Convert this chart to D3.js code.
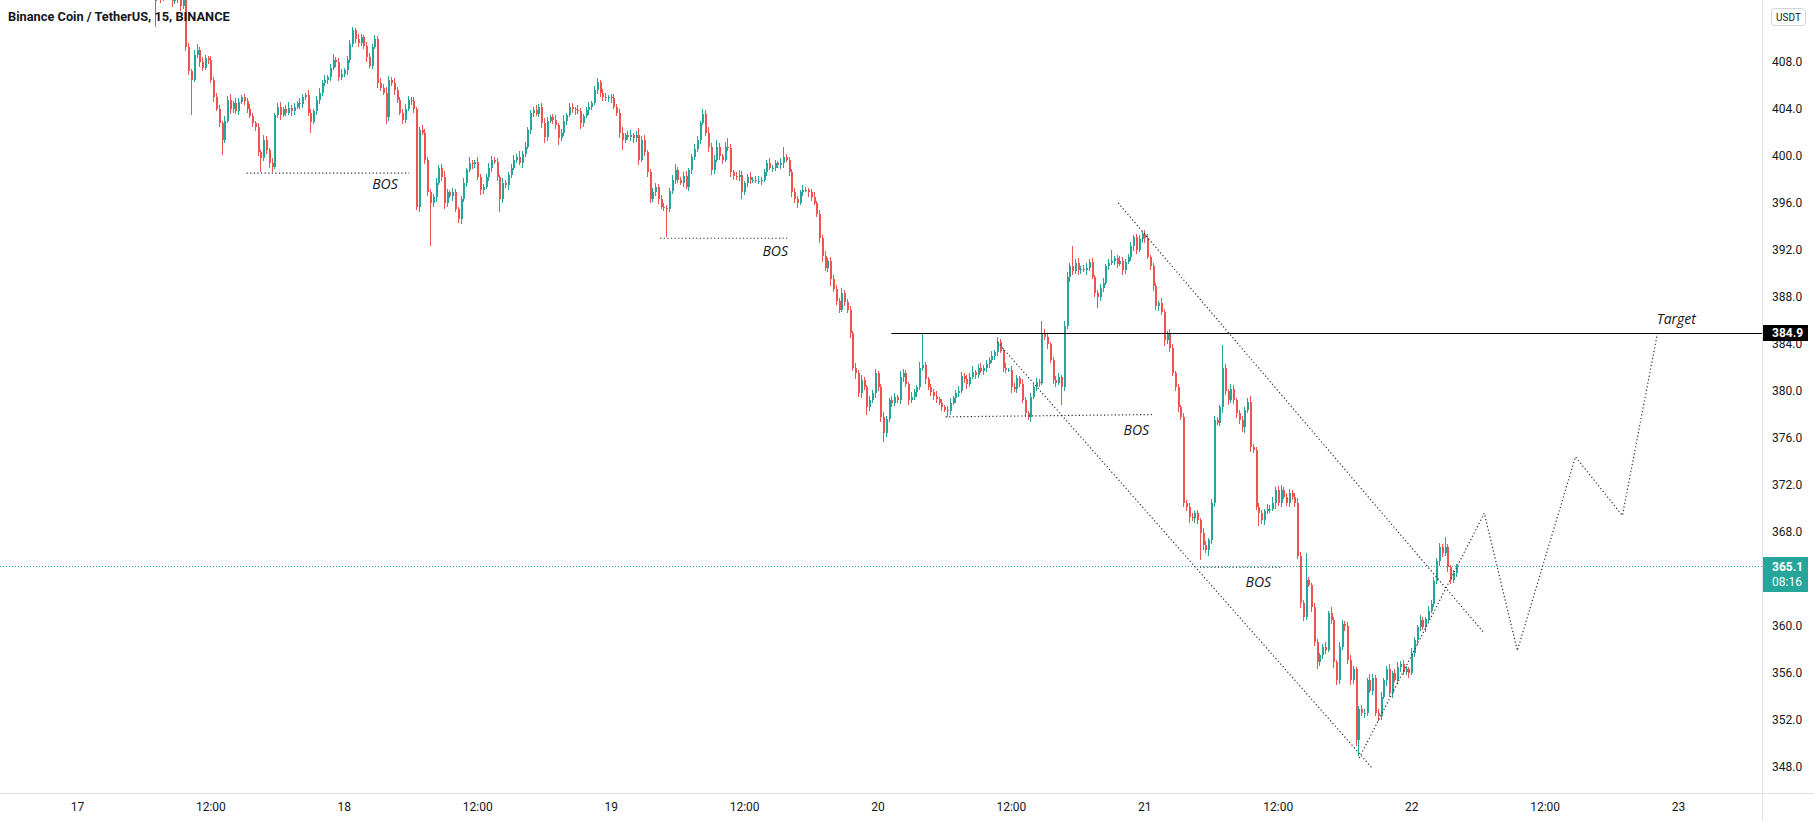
<!DOCTYPE html>
<html>
<head>
<meta charset="utf-8">
<script src="https://cdn.jsdelivr.net/npm/d3@7"></script>
<style>
  body { margin: 0; background: #fff; }
  svg { display: block; }
  text { font-family: Roboto, "Liberation Sans", sans-serif; fill: #131722; }
</style>
</head>
<body>
<script>
// BNB/USDT 15m candles, slot = number of 15-minute steps after 17th 00:00
var firstSlot = 28;
var firstOpen = 413.2;
var closes = [
  413.8,414.2,413.5,413.9,414.5,413.7,413.2,413.8,413.4,412.8,
  413.3,409.3,407.2,406.5,408.6,409.0,408.0,407.5,408.3,408.2,
  406.5,405.0,404.0,402.8,401.4,403.0,404.8,404.0,404.5,403.8,
  404.6,405.0,404.7,404.0,403.4,402.8,402.5,400.3,399.8,401.4,
  400.5,399.4,399.1,403.5,404.2,403.5,404.0,403.7,404.1,403.8,
  404.2,404.5,404.4,405.0,405.2,403.7,402.9,403.8,404.8,405.4,
  406.2,406.5,406.7,407.5,408.2,408.0,406.7,407.0,407.3,408.2,
  409.5,410.7,410.0,409.6,410.1,409.4,408.4,407.7,409.3,410.0,
  406.2,405.8,405.4,403.3,406.5,406.2,405.6,404.8,403.7,403.1,
  404.0,404.8,404.7,404.0,395.7,402.2,402.0,399.7,396.9,396.0,
  396.5,397.7,399.0,398.2,396.0,396.9,396.6,396.9,395.5,394.6,
  396.3,397.7,398.8,399.4,399.3,399.5,398.2,397.1,397.4,398.2,
  399.0,399.7,399.5,398.2,396.3,397.7,397.5,398.4,399.0,399.7,
  399.9,399.4,400.2,400.8,402.2,403.7,403.9,403.6,404.2,402.8,
  401.6,403.0,403.3,403.1,402.6,401.5,402.0,403.0,403.5,404.2,
  404.0,403.9,403.8,402.8,403.4,403.9,404.2,404.5,405.6,406.3,
  405.4,405.0,404.9,405.0,404.9,404.2,403.7,402.0,401.4,401.8,
  401.6,401.8,401.5,401.8,399.7,401.4,400.3,398.6,396.3,396.9,
  397.4,396.3,395.7,395.6,395.5,397.0,398.0,398.8,398.0,397.7,
  398.3,397.4,398.8,399.9,400.6,401.4,402.8,403.6,402.0,400.8,
  398.8,399.7,400.8,400.0,399.7,400.8,400.7,398.6,398.3,398.2,
  398.4,396.9,397.7,398.2,398.0,398.0,397.9,397.9,398.0,398.6,
  399.4,399.0,399.0,399.4,399.2,399.4,399.9,399.7,398.6,396.9,
  396.3,396.0,396.9,397.1,397.1,396.9,396.5,396.0,395.1,393.0,
  391.5,390.5,391.1,389.5,388.7,387.7,386.9,388.3,387.6,386.9,
  384.9,382.0,381.5,379.8,380.9,380.3,378.6,379.2,379.8,381.5,
  380.3,377.8,376.4,377.6,379.2,379.0,379.5,379.2,381.2,381.5,
  380.6,379.2,379.5,379.9,380.3,382.0,382.2,381.0,380.3,379.9,
  379.6,379.3,379.0,378.6,378.4,378.3,379.0,379.4,379.8,380.0,
  381.3,381.0,380.6,381.2,381.6,381.4,382.0,381.7,382.0,382.3,
  382.6,383.0,383.3,384.2,383.4,382.0,381.8,381.8,380.3,380.2,
  381.1,380.6,379.2,378.1,377.8,379.5,380.3,380.8,380.7,384.9,
  384.6,384.0,382.6,380.9,380.7,381.2,380.3,385.5,389.7,390.6,
  390.2,390.9,390.3,390.4,390.3,390.5,391.0,389.7,388.3,388.0,
  388.8,389.2,390.6,390.9,391.1,391.3,390.8,391.1,390.3,391.0,
  391.4,392.3,393.1,392.0,392.9,393.4,393.0,391.4,390.6,388.9,
  387.2,387.5,386.7,384.3,384.9,383.7,381.5,380.3,378.6,377.8,
  370.5,370.1,369.3,369.2,369.6,369.0,367.9,366.9,366.5,367.3,
  370.5,377.5,377.3,378.6,382.0,380.0,379.2,380.2,379.2,378.1,
  377.5,376.9,378.4,379.1,375.2,375.0,370.1,369.6,369.0,369.8,
  370.0,370.0,370.5,371.6,370.5,371.6,371.0,370.5,371.3,371.0,
  370.5,366.0,362.0,360.8,363.9,363.5,361.6,358.6,356.9,357.5,
  358.2,358.0,361.1,360.5,356.9,355.4,358.2,360.2,360.0,357.1,
  355.4,356.3,350.3,352.9,352.6,352.6,355.4,354.5,355.6,352.6,
  352.3,354.0,355.4,356.3,354.3,356.0,355.4,356.5,356.8,356.1,
  356.3,356.0,357.7,358.8,359.9,360.5,359.9,360.6,361.3,361.9,
  363.8,365.5,366.7,366.2,366.7,365.0,363.9,364.5,365.1
];
// wick lengths above / below the body, in tenths of a dollar
var wickUp = [
  6,5,4,8,6,3,5,4,3,5, 4,2,3,2,4,5,3,4,3,2, 3,2,4,3,2,4,3,5,2,4, 3,2,3,2,4,3,2,3,2,4,
  3,2,4,2,3,4,2,3,5,2, 3,2,4,3,2,4,3,2,3,4, 3,4,2,3,5,2,3,4,2,3, 4,3,2,4,3,2,3,4,2,3,
  2,4,3,5,3,2,4,3,2,3, 4,3,2,3,2,3,4,3,2,3, 3,4,2,3,5,3,2,4,3,2, 3,4,2,5,3,2,4,3,2,3,
  4,3,2,3,2,4,3,2,3,4, 3,5,2,4,3,2,3,4,2,3, 4,3,2,3,4,2,3,5,2,3, 3,2,4,3,2,3,4,2,4,3,
  2,3,4,2,3,4,2,3,5,2, 3,4,2,3,6,3,4,2,3,4, 3,2,4,3,2,3,4,5,3,2, 3,4,2,3,4,3,2,4,3,5,
  3,4,6,3,2,4,7,3,2,3, 4,3,2,3,4,2,3,4,2,3, 3,4,2,3,2,4,9,3,2,3, 4,3,2,4,3,2,3,4,2,3,
  3,4,2,3,4,3,2,5,3,2, 3,2,4,3,5,3,2,4,3,4, 2,3,4,3,2,4,3,2,5,4, 3,2,4,3,2,5,27,3,2,3,
  3,4,2,3,2,3,4,2,3,4, 3,2,4,3,5,2,3,4,2,3, 3,4,2,4,2,3,4,2,3,4, 3,2,4,3,2,3,4,3,2,11,
  4,3,2,3,4,3,2,5,4,3, 17,3,4,2,3,4,2,3,2,3, 3,4,2,3,9,2,3,4,3,2, 3,4,2,3,4,2,3,4,2,3,
  3,2,4,3,2,4,3,2,3,2, 3,2,4,3,2,3,2,4,3,2, 3,4,3,2,19,3,2,4,3,2, 3,4,2,3,5,3,2,4,3,2,
  4,3,5,2,3,4,2,3,4,3, 3,4,3,2,23,3,2,4,3,2, 3,4,2,5,3,2,4,3,2,3, 4,3,2,3,4,3,2,5,3,2,
  3,4,2,3,5,2,3,4,2,3, 3,2,4,3,2,4,3,2,4,3, 4,3,4,3,9,3,2,3,2
];
var wickDown = [
  22,4,5,3,6,4,5,3,4,5, 3,4,3,30,2,3,4,3,2,4, 3,4,2,3,13,3,2,4,3,2, 3,2,4,3,2,3,4,3,12,2,
  3,4,5,2,3,4,2,3,2,4, 3,2,4,3,2,3,9,2,3,4, 3,2,4,3,2,4,3,2,3,4, 3,2,4,3,2,3,4,2,3,2,
  4,3,2,6,3,2,4,3,2,4, 3,2,4,3,3,5,2,4,3,37, 3,4,2,3,5,3,2,4,3,3, 4,2,3,2,4,3,2,4,3,2,
  3,4,2,3,11,3,2,4,3,2, 3,2,4,3,2,3,4,2,3,4, 5,3,2,4,3,6,2,3,4,2, 3,4,2,5,3,2,4,3,2,3,
  4,3,2,3,4,2,3,5,9,3, 2,3,4,3,5,2,3,4,3,2, 3,4,2,3,24,3,2,4,3,2, 3,2,4,3,2,3,4,2,3,5,
  4,3,2,3,4,2,3,4,3,2, 3,6,2,3,4,3,2,3,4,2, 3,2,4,3,2,3,4,2,3,4, 3,4,2,3,2,4,3,2,3,4,
  5,3,4,6,3,4,3,2,4,3, 4,3,5,3,4,2,6,3,2,4, 3,4,7,3,2,4,3,2,3,4, 3,4,2,3,4,2,3,4,2,3,
  4,3,2,3,2,5,3,2,4,3, 2,3,4,3,2,4,3,2,3,4, 3,2,4,3,2,4,3,2,5,3, 4,3,2,3,3,4,2,3,4,2,
  3,4,2,3,4,2,15,3,2,4, 3,2,4,3,2,4,3,2,3,9, 3,4,2,3,2,4,3,2,4,3, 2,3,4,3,2,3,4,2,3,4,
  3,4,2,5,3,4,2,3,4,3, 4,3,5,3,4,3,23,4,3,5, 3,4,2,3,5,3,4,2,3,4, 3,4,5,3,4,3,2,11,3,4,
  3,4,2,5,3,4,2,3,4,3, 4,3,5,4,3,2,4,3,6,3, 3,4,2,3,5,4,3,2,4,3, 4,3,5,14,3,4,3,2,4,3,
  4,3,2,5,3,4,2,3,4,3, 3,4,2,3,4,3,2,4,3,2, 3,2,4,3,2,4,3,2,3
];

var priceTicks = [348, 352, 356, 360, 364, 368, 372, 376, 380, 384, 388, 392, 396, 400, 404, 408];
var timeTicks = ["2022-03-17T00:00Z", "2022-03-17T12:00Z", "2022-03-18T00:00Z", "2022-03-18T12:00Z",
  "2022-03-19T00:00Z", "2022-03-19T12:00Z", "2022-03-20T00:00Z", "2022-03-20T12:00Z",
  "2022-03-21T00:00Z", "2022-03-21T12:00Z", "2022-03-22T00:00Z", "2022-03-22T12:00Z", "2022-03-23T00:00Z"];

var lastPrice = 365.1;
var lastTimer = "08:16";
var targetPrice = 384.9;
var targetStart = 293;

// drawings: [slot, price] points
var bosLines = [
  {from: [61, 398.55], to: [119.5, 398.55], label: [110.8, 397.6]},
  {from: [209.8, 393.0], to: [255.5, 393.0], label: [251.2, 391.9]},
  {from: [312.5, 377.8], to: [387.4, 378.0], label: [381.1, 376.7]},
  {from: [404, 365.0], to: [433.6, 365.0], label: [425, 363.7]}
];
var channelUpper = [[374.6, 396.0], [505.9, 359.5]];
var channelLower = [[331.1, 384.17], [466, 347.9]];
var projection = [[461.3, 348.77], [506.3, 369.6], [518.2, 357.9], [539.1, 374.4], [556, 369.4], [568.6, 384.9]];
var targetLabel = [575.4, 386.1];

var w = 1814, h = 821;
var plotRight = 1762, plotBottom = 793;
var upColor = "#26a69a", downColor = "#ef5350";

var t0 = Date.UTC(2022, 2, 17);
function slotTime(s) { return new Date(t0 + s * 15 * 60000); }

var svg = d3.select("body").append("svg")
  .attr("width", w)
  .attr("height", h);

var xScale = d3.scaleUtc()
  .domain([new Date(t0), new Date(Date.UTC(2022, 2, 23))])
  .range([77, 1678]);
var yScale = d3.scaleLinear()
  .domain([408, 348])
  .range([62, 767]);

function px(p) { return xScale(slotTime(p[0])); }
function py(p) { return yScale(p[1]); }

svg.append("clipPath").attr("id", "plot")
  .append("rect").attr("x", 0).attr("y", 0).attr("width", plotRight).attr("height", plotBottom);

var plot = svg.append("g").attr("clip-path", "url(#plot)");

// last price dotted line
plot.append("line")
  .attr("x1", 0).attr("x2", plotRight)
  .attr("y1", Math.round(yScale(lastPrice)) + 0.5).attr("y2", Math.round(yScale(lastPrice)) + 0.5)
  .attr("stroke", upColor).attr("stroke-dasharray", "1,2");

var candles = closes.map(function(c, i) {
  var o = i ? closes[i - 1] : firstOpen;
  return {
    t: slotTime(firstSlot + i), o: o, c: c,
    h: Math.max(o, c) + (wickUp[i] || 0) / 10,
    l: Math.min(o, c) - (wickDown[i] || 0) / 10
  };
});

var cg = plot.append("g").attr("shape-rendering", "crispEdges");
cg.selectAll("line.wick")
  .data(candles)
  .enter()
  .append("line")
  .attr("class", "wick")
  .attr("x1", function(d) { return Math.round(xScale(d.t)) + 0.5; })
  .attr("x2", function(d) { return Math.round(xScale(d.t)) + 0.5; })
  .attr("y1", function(d) { return yScale(d.h); })
  .attr("y2", function(d) { return yScale(d.l); })
  .attr("stroke", function(d) { return d.c >= d.o ? upColor : downColor; });

cg.selectAll("rect")
  .data(candles)
  .enter()
  .append("rect")
  .attr("x", function(d) { return Math.round(xScale(d.t)) - 0.5; })
  .attr("width", 2)
  .attr("y", function(d) { return yScale(Math.max(d.o, d.c)); })
  .attr("height", function(d) { return Math.max(1, Math.abs(yScale(d.o) - yScale(d.c))); })
  .attr("fill", function(d) { return d.c >= d.o ? upColor : downColor; });

// target level
plot.append("line")
  .attr("x1", xScale(slotTime(targetStart))).attr("x2", plotRight)
  .attr("y1", Math.round(yScale(targetPrice)) + 0.5).attr("y2", Math.round(yScale(targetPrice)) + 0.5)
  .attr("stroke", "#000").attr("stroke-width", 1);

var dotted = plot.append("g")
  .attr("fill", "none")
  .attr("stroke", "#2a2e39")
  .attr("stroke-width", 1.2)
  .attr("stroke-dasharray", "1.2,2.4");

bosLines.forEach(function(b) {
  dotted.append("line")
    .attr("x1", px(b.from)).attr("y1", py(b.from))
    .attr("x2", px(b.to)).attr("y2", py(b.to));
  plot.append("text")
    .attr("x", px(b.label)).attr("y", py(b.label))
    .attr("dy", "0.35em")
    .attr("text-anchor", "middle")
    .style("font-family", "'Open Sans', sans-serif")
    .style("font-style", "italic")
    .style("font-size", "14px")
    .text("BOS");
});

var line = d3.line().x(px).y(py);
dotted.append("path").attr("d", line(channelUpper));
dotted.append("path").attr("d", line(channelLower));
dotted.append("path").attr("d", line(projection));

plot.append("text")
  .attr("x", px(targetLabel)).attr("y", py(targetLabel))
  .attr("dy", "0.35em")
  .attr("text-anchor", "middle")
  .style("font-family", "'Open Sans', sans-serif")
  .style("font-style", "italic")
  .style("font-size", "14px")
  .text("Target");

// axes frame
svg.append("line")
  .attr("x1", 0).attr("x2", w)
  .attr("y1", plotBottom + 0.5).attr("y2", plotBottom + 0.5)
  .attr("stroke", "#e0e3eb");
svg.append("line")
  .attr("x1", plotRight + 0.5).attr("x2", plotRight + 0.5)
  .attr("y1", 0).attr("y2", h)
  .attr("stroke", "#e0e3eb");

var yAxis = d3.axisRight(yScale)
  .tickValues(priceTicks)
  .tickSize(0)
  .tickPadding(10)
  .tickFormat(d3.format(".1f"));
var gy = svg.append("g")
  .attr("transform", "translate(" + plotRight + ",0)")
  .call(yAxis);
gy.select(".domain").remove();
gy.selectAll("text").style("font-size", "12px").attr("fill", "#131722");

var xAxis = d3.axisBottom(xScale)
  .tickValues(timeTicks.map(function(s) { return new Date(s); }))
  .tickSize(0)
  .tickPadding(9)
  .tickFormat(function(d) { return d.getUTCHours() === 0 ? String(d.getUTCDate()) : "12:00"; });
var gx = svg.append("g")
  .attr("transform", "translate(0," + plotBottom + ")")
  .call(xAxis);
gx.select(".domain").remove();
gx.selectAll("text").style("font-size", "12px").attr("fill", "#131722");

// price labels on the scale
var ty = Math.round(yScale(targetPrice));
svg.append("rect")
  .attr("x", plotRight + 1).attr("y", ty - 8)
  .attr("width", 45).attr("height", 16)
  .attr("fill", "#000");
svg.append("text")
  .attr("x", plotRight + 10).attr("y", ty)
  .attr("dy", "0.35em")
  .style("font-size", "12px").style("font-weight", "bold")
  .style("fill", "#fff")
  .text(d3.format(".1f")(targetPrice));

var ly = Math.round(yScale(lastPrice));
svg.append("rect")
  .attr("x", plotRight + 1).attr("y", ly - 9)
  .attr("width", 45).attr("height", 35)
  .attr("fill", upColor);
svg.append("text")
  .attr("x", plotRight + 10).attr("y", ly + 1)
  .attr("dy", "0.35em")
  .style("font-size", "12px").style("font-weight", "bold")
  .style("fill", "#fff")
  .text(d3.format(".1f")(lastPrice));
svg.append("text")
  .attr("x", plotRight + 10).attr("y", ly + 16)
  .attr("dy", "0.35em")
  .style("font-size", "12px")
  .style("fill", "#fff")
  .text(lastTimer);

// currency box
svg.append("rect")
  .attr("x", 1771.5).attr("y", 8.5)
  .attr("width", 34).attr("height", 17).attr("rx", 3)
  .attr("fill", "#fff").attr("stroke", "#d1d4dc");
svg.append("text")
  .attr("x", 1788.5).attr("y", 17)
  .attr("dy", "0.35em")
  .attr("text-anchor", "middle")
  .style("font-size", "10px")
  .text("USDT");

svg.append("text")
  .attr("x", 8).attr("y", 21)
  .style("font-size", "12.8px")
  .style("font-weight", "bold")
  .text("Binance Coin / TetherUS, 15, BINANCE");
</script>
</body>
</html>
